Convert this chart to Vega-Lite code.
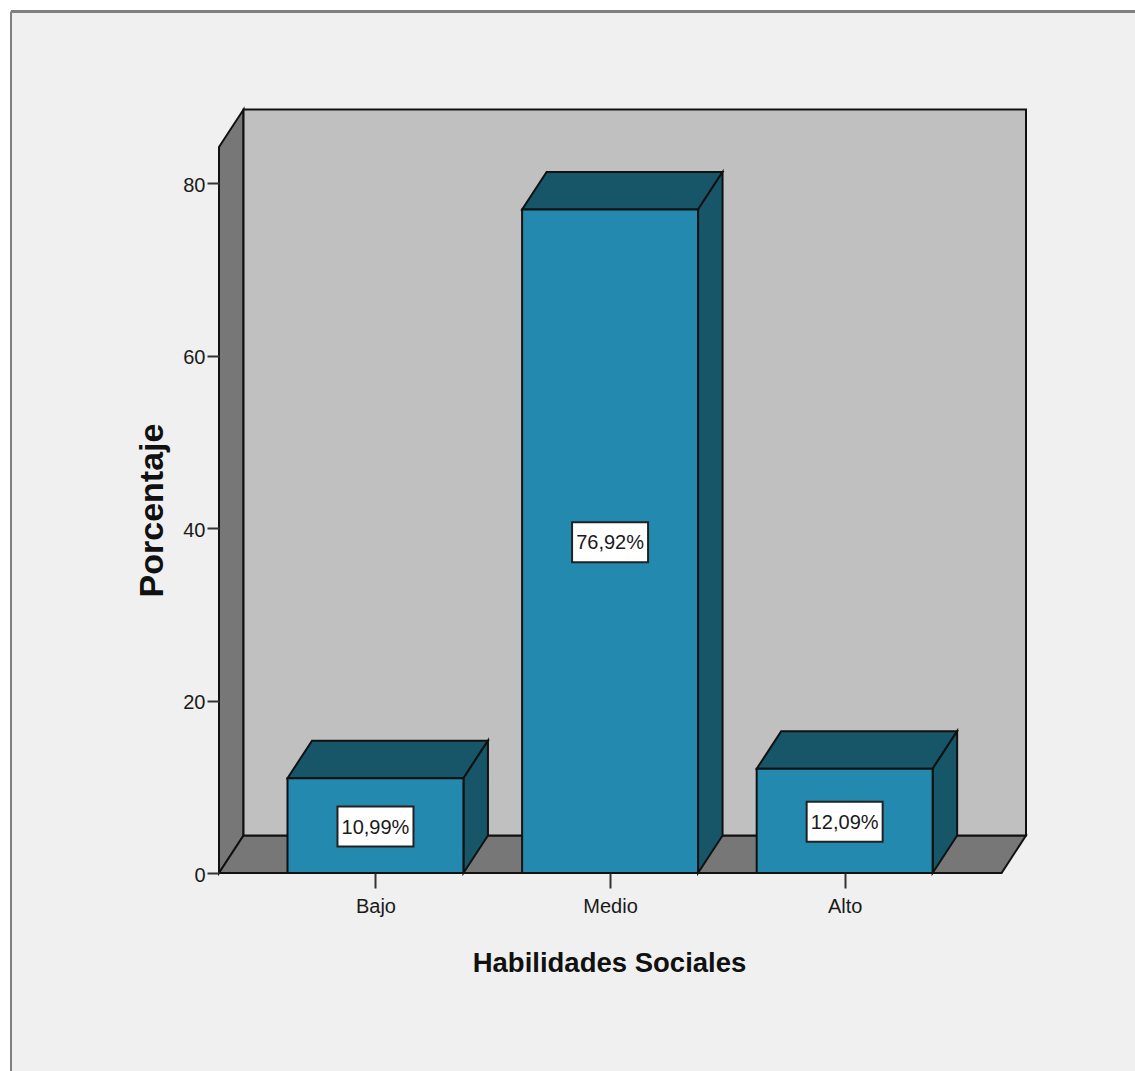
{
  "$schema": "https://vega.github.io/schema/vega-lite/v6.json",
  "width": 807,
  "height": 764,
  "autosize": "none",
  "padding": {"left": 219, "top": 109, "right": 109, "bottom": 198},
  "background": "#ffffff",
  "config": {"view": {"stroke": null}},
  "datasets": {
    "barras": [
      {"nivel": "Bajo", "pos": 1, "desde": 0.625, "hasta": 1.375, "base": 0, "porcentaje": 10.99, "etiqueta": "10,99%", "centro": 5.495},
      {"nivel": "Medio", "pos": 2, "desde": 1.625, "hasta": 2.375, "base": 0, "porcentaje": 76.92, "etiqueta": "76,92%", "centro": 38.46},
      {"nivel": "Alto", "pos": 3, "desde": 2.625, "hasta": 3.375, "base": 0, "porcentaje": 12.09, "etiqueta": "12,09%", "centro": 6.045}
    ],
    "caras": [
      {"cara": "pared izquierda", "tono": "suelo", "x": 0.333, "y": 0, "y2": 84.17},
      {"cara": "pared izquierda", "tono": "suelo", "x": 0.4375, "y": 4.35, "y2": 88.52},
      {"cara": "suelo", "tono": "suelo", "x": 0.333, "y": 0, "y2": 0},
      {"cara": "suelo", "tono": "suelo", "x": 0.4375, "y": 0, "y2": 4.35},
      {"cara": "suelo", "tono": "suelo", "x": 3.669, "y": 0, "y2": 4.35},
      {"cara": "suelo", "tono": "suelo", "x": 3.773, "y": 4.35, "y2": 4.35},
      {"cara": "fondo", "tono": "fondo", "x": 0.4375, "y": 4.35, "y2": 88.52},
      {"cara": "fondo", "tono": "fondo", "x": 3.773, "y": 4.35, "y2": 88.52},
      {"cara": "Bajo techo", "tono": "sombra", "x": 0.625, "y": 10.99, "y2": 10.99},
      {"cara": "Bajo techo", "tono": "sombra", "x": 0.7295, "y": 10.99, "y2": 15.34},
      {"cara": "Bajo techo", "tono": "sombra", "x": 1.375, "y": 10.99, "y2": 15.34},
      {"cara": "Bajo techo", "tono": "sombra", "x": 1.4795, "y": 15.34, "y2": 15.34},
      {"cara": "Bajo lado", "tono": "sombra", "x": 1.375, "y": 0, "y2": 10.99},
      {"cara": "Bajo lado", "tono": "sombra", "x": 1.4795, "y": 4.35, "y2": 15.34},
      {"cara": "Medio techo", "tono": "sombra", "x": 1.625, "y": 76.92, "y2": 76.92},
      {"cara": "Medio techo", "tono": "sombra", "x": 1.7295, "y": 76.92, "y2": 81.27},
      {"cara": "Medio techo", "tono": "sombra", "x": 2.375, "y": 76.92, "y2": 81.27},
      {"cara": "Medio techo", "tono": "sombra", "x": 2.4795, "y": 81.27, "y2": 81.27},
      {"cara": "Medio lado", "tono": "sombra", "x": 2.375, "y": 0, "y2": 76.92},
      {"cara": "Medio lado", "tono": "sombra", "x": 2.4795, "y": 4.35, "y2": 81.27},
      {"cara": "Alto techo", "tono": "sombra", "x": 2.625, "y": 12.09, "y2": 12.09},
      {"cara": "Alto techo", "tono": "sombra", "x": 2.7295, "y": 12.09, "y2": 16.44},
      {"cara": "Alto techo", "tono": "sombra", "x": 3.375, "y": 12.09, "y2": 16.44},
      {"cara": "Alto techo", "tono": "sombra", "x": 3.4795, "y": 16.44, "y2": 16.44},
      {"cara": "Alto lado", "tono": "sombra", "x": 3.375, "y": 0, "y2": 12.09},
      {"cara": "Alto lado", "tono": "sombra", "x": 3.4795, "y": 4.35, "y2": 16.44}
    ],
    "lienzo": [{"x": -0.5536, "x2": 4.3, "y": -24, "y2": 99.88}]
  },
  "layer": [
    {
      "data": {"name": "lienzo"},
      "mark": {"type": "rect", "fill": "#f0f0f0"},
      "encoding": {
        "x": {"field": "x", "type": "quantitative", "scale": {"domain": [0.333, 3.773], "nice": false, "zero": false},
          "axis": {"zindex": 1, "values": [1, 2, 3], "labelExpr": "datum.value == 1 ? 'Bajo' : datum.value == 2 ? 'Medio' : 'Alto'", "grid": false, "domain": false, "tickSize": 15, "tickWidth": 2, "tickColor": "#333333", "labelFont": "Liberation Sans", "labelFontSize": 20, "labelColor": "#1a1a1a", "labelPadding": 8, "labelOverlap": false, "title": "Habilidades Sociales", "titleFont": "Liberation Sans", "titleFontWeight": "bold", "titleFontSize": 27.5, "titleColor": "#111111", "titleX": 390, "titleY": 98, "titleBaseline": "alphabetic"}},
        "x2": {"field": "x2"},
        "y": {"field": "y", "type": "quantitative", "scale": {"domain": [0, 88.58], "nice": false, "zero": false},
          "axis": {"zindex": 1, "values": [0, 20, 40, 60, 80], "grid": false, "domain": false, "tickSize": 12, "tickWidth": 2, "tickColor": "#333333", "labelFont": "Liberation Sans", "labelFontSize": 20, "labelColor": "#1a1a1a", "labelPadding": 2, "labelOffset": 2, "title": "Porcentaje", "titleFont": "Liberation Sans", "titleFontWeight": "bold", "titleFontSize": 34, "titleColor": "#111111", "titleX": -57, "titleY": 401, "titleBaseline": "alphabetic"}},
        "y2": {"field": "y2"}
      }
    },
    {
      "data": {"name": "lienzo"},
      "mark": {"type": "rule", "stroke": "#808080", "strokeWidth": 3},
      "encoding": {"x": {"field": "x", "type": "quantitative"}, "x2": {"field": "x2"}, "y": {"field": "y2", "type": "quantitative"}}
    },
    {
      "data": {"name": "lienzo"},
      "mark": {"type": "rule", "stroke": "#808080", "strokeWidth": 2},
      "encoding": {"x": {"field": "x", "type": "quantitative"}, "y": {"field": "y", "type": "quantitative"}, "y2": {"field": "y2"}}
    },
    {
      "data": {"name": "caras"},
      "mark": {"type": "area", "stroke": "#111111", "strokeWidth": 2, "strokeJoin": "miter", "opacity": 1},
      "encoding": {
        "x": {"field": "x", "type": "quantitative"},
        "y": {"field": "y", "type": "quantitative"},
        "y2": {"field": "y2"},
        "detail": {"field": "cara", "type": "nominal"},
        "fill": {"field": "tono", "type": "nominal", "legend": null, "scale": {"domain": ["suelo", "fondo", "sombra"], "range": ["#777777", "#c0c0c0", "#175568"]}}
      }
    },
    {
      "data": {"name": "barras"},
      "mark": {"type": "rect", "fill": "#2389ae", "stroke": "#111111", "strokeWidth": 2},
      "encoding": {
        "x": {"field": "desde", "type": "quantitative"},
        "x2": {"field": "hasta"},
        "y": {"field": "base", "type": "quantitative"},
        "y2": {"field": "porcentaje"}
      }
    },
    {
      "data": {"name": "barras"},
      "mark": {"type": "rect", "width": 76, "height": 40, "yOffset": 1, "fill": "#ffffff", "stroke": "#222222", "strokeWidth": 2},
      "encoding": {
        "x": {"field": "pos", "type": "quantitative"},
        "y": {"field": "centro", "type": "quantitative"}
      }
    },
    {
      "data": {"name": "barras"},
      "mark": {"type": "text", "font": "Liberation Sans", "fontSize": 20, "fill": "#1a1a1a", "align": "center", "baseline": "middle", "yOffset": 2},
      "encoding": {
        "x": {"field": "pos", "type": "quantitative"},
        "y": {"field": "centro", "type": "quantitative"},
        "text": {"field": "etiqueta", "type": "nominal"}
      }
    }
  ]
}
